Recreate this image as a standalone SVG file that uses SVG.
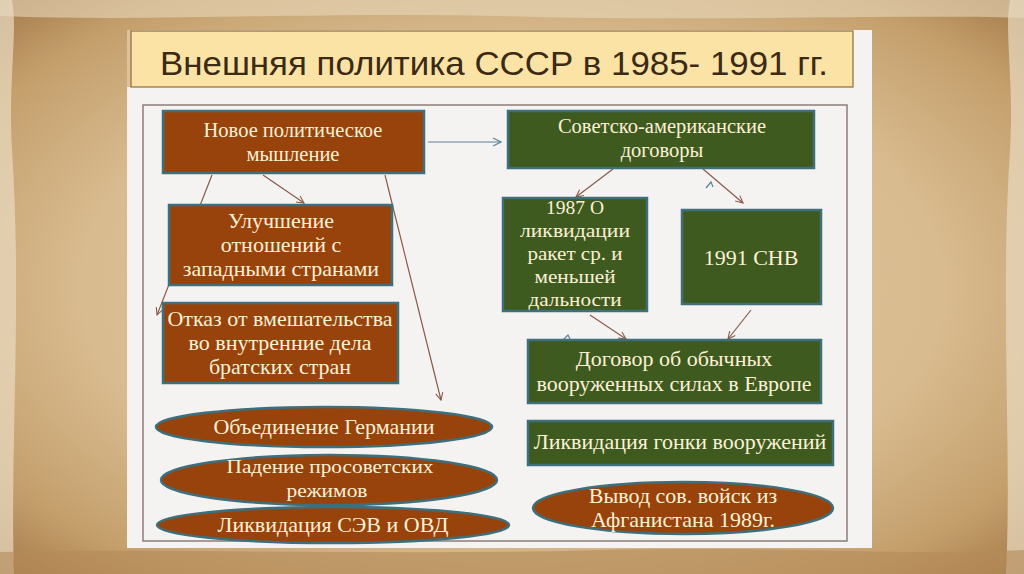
<svg xmlns="http://www.w3.org/2000/svg" width="1024" height="574" viewBox="0 0 1024 574">
<defs>
<radialGradient id="parch" cx="50%" cy="50%" r="70%">
<stop offset="0" stop-color="#e3cba3"/>
<stop offset="0.6" stop-color="#d8bb8f"/>
<stop offset="0.85" stop-color="#c49f6c"/>
<stop offset="1" stop-color="#a67c4c"/>
</radialGradient>
<marker id="ab" viewBox="0 0 10 10" refX="9" refY="5" markerWidth="9" markerHeight="9" orient="auto" markerUnits="userSpaceOnUse">
<path d="M1,1 L9,5 L1,9" fill="none" stroke="#8b5a46" stroke-width="1.2"/>
</marker>
<marker id="ag" viewBox="0 0 10 10" refX="9" refY="5" markerWidth="10" markerHeight="10" orient="auto" markerUnits="userSpaceOnUse">
<path d="M1,1 L9,5 L1,9" fill="none" stroke="#5d8299" stroke-width="1.2"/>
</marker>
</defs>
<style>
.br{fill:#97430b;stroke:#3d6f7c;stroke-width:2.5}
.gr{fill:#3f5a1e;stroke:#3d6f7c;stroke-width:2.5}
.t{font-family:"Liberation Serif","DejaVu Serif",serif;fill:#fbf1d6;text-anchor:middle;font-size:22px}
.s{font-size:20.5px}
.m{font-size:19.5px}
.c{fill:none;stroke:#8b5a46;stroke-width:1.2}
</style>
<rect x="0" y="0" width="1024" height="574" fill="url(#parch)"/>
<path d="M0,0 H1024 V18 C900,14 700,22 500,16 C300,12 150,22 0,16 Z" fill="#e8d8bb" opacity="0.6"/>
<path d="M0,0 V574 H14 C10,450 22,300 12,150 C8,80 18,30 12,0 Z" fill="#eadcc2" opacity="0.7"/>
<path d="M1024,0 V574 H1006 C1012,450 1000,300 1010,150 C1014,80 1004,30 1010,0 Z" fill="#eadcc2" opacity="0.7"/>
<path d="M0,552 C200,548 400,556 600,550 C800,546 900,556 1024,550 V574 H0 Z" fill="#b48a58" opacity="0.6"/>
<rect x="127" y="30" width="745" height="518" fill="#f4f3f1"/>
<rect x="127" y="30" width="5" height="57" fill="#dcc39b"/>
<rect x="143" y="105" width="704" height="436" fill="none" stroke="#8a7e78" stroke-width="1.5"/>
<g id="title">
<rect x="131" y="31" width="722" height="56" fill="#fbe3a5" stroke="#8c6c3e" stroke-width="1.2"/>
<text x="494" y="75" font-family="'Liberation Sans','DejaVu Sans',sans-serif" font-size="33" fill="#3b2a14" text-anchor="middle" textLength="668" lengthAdjust="spacingAndGlyphs">Внешняя политика СССР в 1985- 1991 гг.</text>
</g>
<g id="connectors">
<line class="c" x1="428" y1="142" x2="501" y2="142" style="stroke:#5d8299" marker-end="url(#ag)"/>
<line class="c" x1="263" y1="175" x2="304" y2="203" marker-end="url(#ab)"/>
<line class="c" x1="212" y1="175" x2="157" y2="315" marker-end="url(#ab)"/>
<line class="c" x1="385" y1="175" x2="441" y2="400" marker-end="url(#ab)"/>
<line class="c" x1="613" y1="169" x2="576" y2="197" marker-end="url(#ab)"/>
<line class="c" x1="703" y1="169" x2="743" y2="203" marker-end="url(#ab)"/>
<line class="c" x1="590" y1="315" x2="626" y2="339" marker-end="url(#ab)"/>
<line class="c" x1="751" y1="310" x2="728" y2="339" marker-end="url(#ab)"/>
<path d="M706,188 L711,182 L713,187" fill="none" stroke="#5d8299" stroke-width="1.2"/>
<path d="M563,340 L568,335 L570,339" fill="none" stroke="#5d8299" stroke-width="1.2"/>
</g>
<g id="n-novoe">
<rect class="br" x="163" y="111" width="261" height="62"/>
<text class="t s" x="293" y="137">Новое политическое</text>
<text class="t s" x="293" y="161">мышление</text>
</g>
<g id="n-sovam">
<rect class="gr" x="508" y="111" width="306" height="57"/>
<text class="t s" x="662" y="133">Советско-американские</text>
<text class="t s" x="662" y="157">договоры</text>
</g>
<g id="n-uluch">
<rect class="br" x="169" y="205" width="223" height="80"/>
<text class="t" x="281" y="228">Улучшение</text>
<text class="t" x="281" y="252">отношений с</text>
<text class="t" x="281" y="276">западными странами</text>
</g>
<g id="n-otkaz">
<rect class="br" x="163" y="303" width="235" height="80"/>
<text class="t" x="280" y="326">Отказ от вмешательства</text>
<text class="t" x="280" y="350">во внутренние дела</text>
<text class="t" x="280" y="374">братских стран</text>
</g>
<g id="n-1987">
<rect class="gr" x="503" y="198" width="144" height="113"/>
<text class="t m" x="575" y="214" textLength="58" lengthAdjust="spacingAndGlyphs">1987 О</text>
<text class="t m" x="575" y="237" textLength="110" lengthAdjust="spacingAndGlyphs">ликвидации</text>
<text class="t m" x="575" y="260" textLength="95" lengthAdjust="spacingAndGlyphs">ракет ср. и</text>
<text class="t m" x="575" y="283" textLength="81" lengthAdjust="spacingAndGlyphs">меньшей</text>
<text class="t m" x="575" y="306" textLength="93" lengthAdjust="spacingAndGlyphs">дальности</text>
</g>
<g id="n-1991">
<rect class="gr" x="682" y="210" width="139" height="94"/>
<text class="t" x="751" y="265">1991 СНВ</text>
</g>
<g id="n-dogovor">
<rect class="gr" x="528" y="340" width="293" height="63"/>
<text class="t" x="674" y="366">Договор об обычных</text>
<text class="t" x="674" y="391">вооруженных силах в Европе</text>
</g>
<g id="n-gonka">
<rect class="gr" x="528" y="421" width="305" height="44"/>
<text class="t" x="680" y="449">Ликвидация гонки вооружений</text>
</g>
<g id="n-germ">
<ellipse class="br" cx="324" cy="427" rx="168" ry="20"/>
<text class="t" x="324" y="434">Объединение Германии</text>
</g>
<g id="n-paden">
<ellipse class="br" cx="329" cy="480" rx="168" ry="25"/>
<text class="t m" x="330" y="473" textLength="207" lengthAdjust="spacingAndGlyphs">Падение просоветских</text>
<text class="t m" x="327" y="497" textLength="81" lengthAdjust="spacingAndGlyphs">режимов</text>
</g>
<g id="n-sev">
<ellipse class="br" cx="333" cy="525" rx="176" ry="18"/>
<text class="t" x="333" y="532">Ликвидация СЭВ и ОВД</text>
</g>
<g id="n-afgan">
<ellipse class="br" cx="683" cy="508" rx="150" ry="26"/>
<text class="t" x="683" y="503">Вывод сов. войск из</text>
<text class="t" x="683" y="527">Афганистана 1989г.</text>
</g>
</svg>
